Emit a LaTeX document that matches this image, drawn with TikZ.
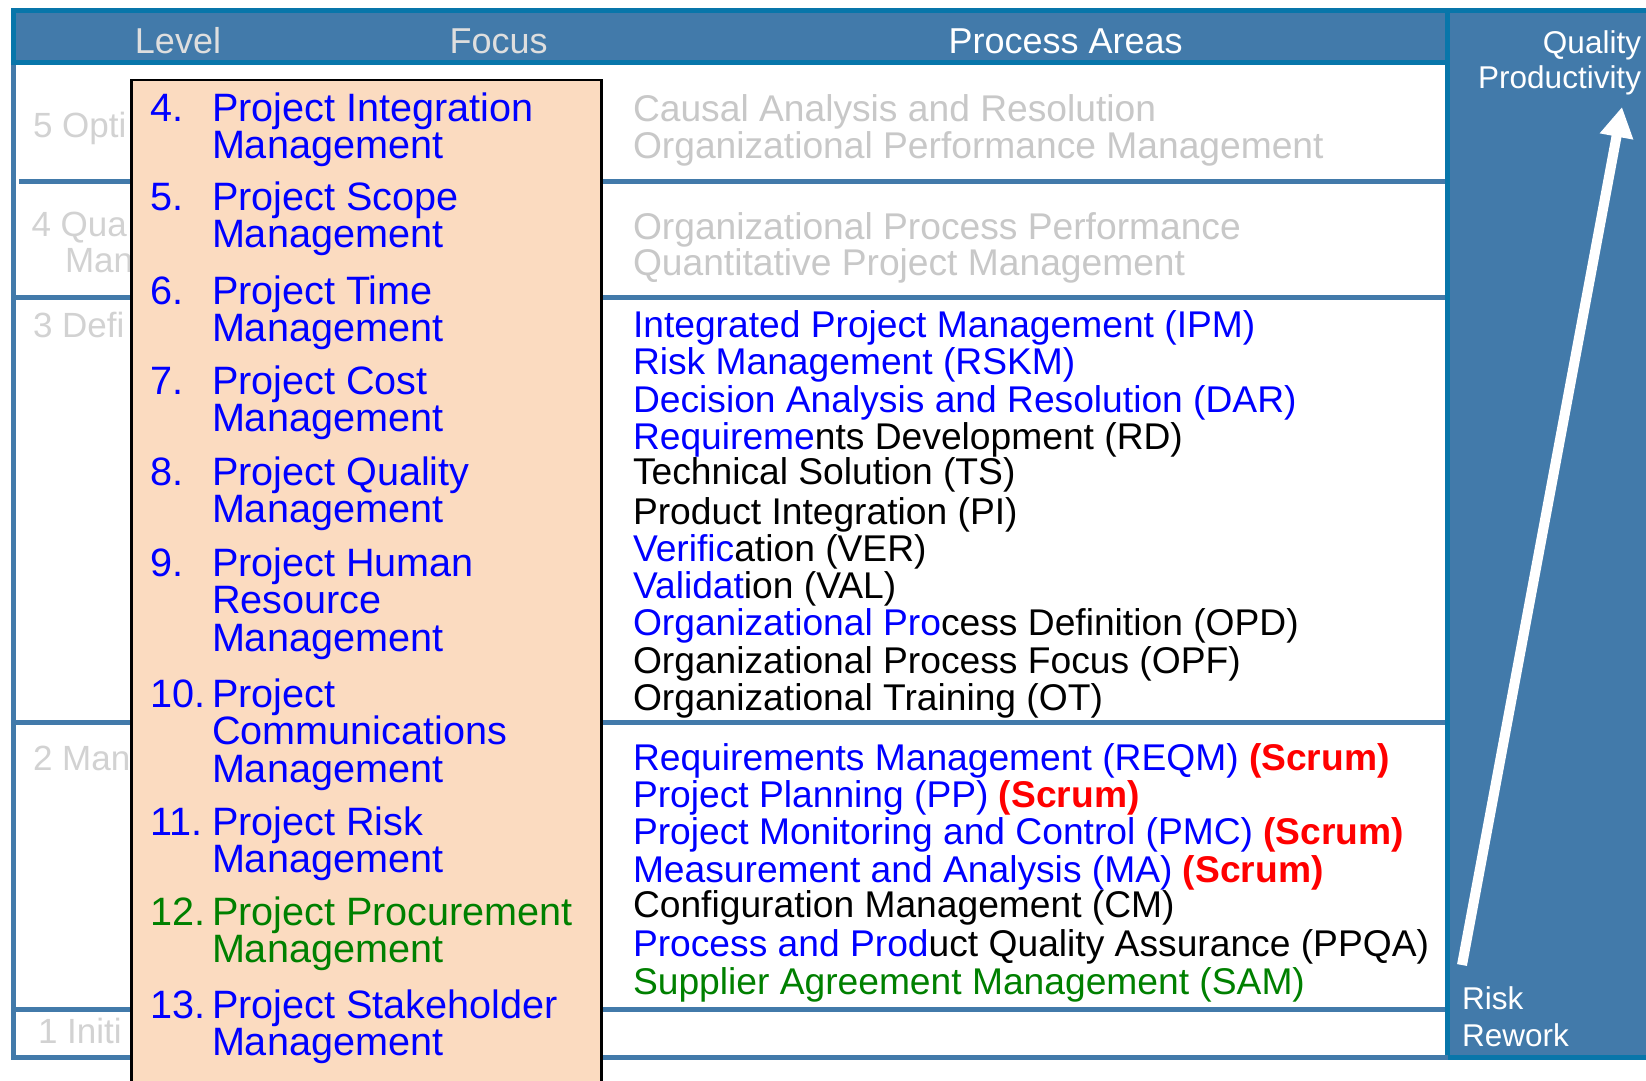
\documentclass[tikz,border=0pt]{standalone}
\usepackage{fontspec}
\setmainfont{Liberation Sans}
\usetikzlibrary{arrows.meta}
\definecolor{steel}{RGB}{66,122,170}
\definecolor{darkb}{RGB}{8,118,170}
\definecolor{peach}{RGB}{251,219,192}
\definecolor{pblue}{RGB}{0,0,255}
\definecolor{pgreen}{RGB}{0,128,0}
\definecolor{pred}{RGB}{255,0,0}
\definecolor{lgray}{RGB}{210,210,210}
\definecolor{pgray}{RGB}{200,200,200}
\definecolor{hgray}{RGB}{222,222,222}
\newcommand\focitem[5]{%
  \node[foc, text=#4] (#1-n) at (150,#3) {#2};
  \foreach \t [count=\i from 0] in {#5} {\node[foc, text=#4] (#1-\i) at (212,{#3+\i*37.5}) {\t};}%
}
\begin{document}
\begin{tikzpicture}[x=1pt,y=-1pt,
  every node/.style={inner sep=0pt, outer sep=0pt},
  proc/.style={anchor=base west, font=\fontsize{37.2}{37}\selectfont},
  foc/.style={anchor=base west, font=\fontsize{39.6}{37.5}\selectfont},
  lvl/.style={anchor=base west, font=\fontsize{35}{35}\selectfont, text=lgray},
  hdr/.style={anchor=base, font=\fontsize{36}{36}\selectfont},
  side/.style={font=\fontsize{31.5}{35}\selectfont, text=white},
  rulel/.style={steel, line width=5pt},
  darkl/.style={darkb, line width=5pt}]
\path[use as bounding box] (0,0) rectangle (1646,1080);
\clip (0,0) rectangle (1646,1080);
\fill[white] (0,0) rectangle (1646,1080);

% right column
\fill[steel] (1447.5,10.5) rectangle (1660,1057.5);
\draw[darkl] (1660,10.5) -- (1447.5,10.5) -- (1447.5,1057.5) -- (1660,1057.5);

% table lines
\draw[rulel] (13.5,62) -- (13.5,1057.5) -- (1447.5,1057.5);
\draw[rulel] (19,181) -- (1445,181);
\draw[rulel] (13.5,297.5) -- (1445,297.5);
\draw[rulel] (13.5,722) -- (1445,722);
\draw[rulel] (13.5,1009.5) -- (1445,1009.5);

% header
\draw[darkl, fill=steel] (13.5,10.5) rectangle (1447.5,62.5);
\node[hdr, text=hgray] (hlevel) at (178,53) {Level};
\node[hdr, text=hgray] (hfocus) at (498.6,53) {Focus};
\node[hdr, text=white] (hpa) at (1065.6,53) {Process Areas};

% level labels (the visible parts; the focus box covers the rest)
\node[lvl] (l5) at (33,137) {5 Opti};
\node[lvl] (l4a) at (31.5,236) {4 Qua};
\node[lvl] (l4b) at (65,272) {Man};
\node[lvl] (l3) at (33,337) {3 Defi};
\node[lvl] (l2) at (33,770) {2 Man};
\node[lvl] (l1) at (38,1043) {1 Initi};

% process areas
\node[proc, text=pgray] (p51) at (633,121) {Causal Analysis and Resolution};
\node[proc, text=pgray] (p52) at (633,158) {Organizational Performance Management};
\node[proc, text=pgray] (p41) at (633,239) {Organizational Process Performance};
\node[proc, text=pgray] (p42) at (633,275) {Quantitative Project Management};

\node[proc, text=pblue] (ipm) at (633,337) {Integrated Project Management (IPM)};
\node[proc, text=pblue] (rskm) at (633,374) {Risk Management (RSKM)};
\node[proc, text=pblue] (dar) at (633,412) {Decision Analysis and Resolution (DAR)};
\node[proc] (rd) at (633,449) {{\color{pblue}Requireme}nts Development (RD)};
\node[proc] (ts) at (633,484) {Technical Solution (TS)};
\node[proc] (pi) at (633,524) {Product Integration (PI)};
\node[proc] (ver) at (633,561) {{\color{pblue}Verific}ation (VER)};
\node[proc] (val) at (633,598) {{\color{pblue}Validat}ion (VAL)};
\node[proc] (opd) at (633,635) {{\color{pblue}Organizational Pro}cess Definition (OPD)};
\node[proc] (opf) at (633,673) {Organizational Process Focus (OPF)};
\node[proc] (ot) at (633,710) {Organizational Training (OT)};

\node[proc, text=pblue] (reqm) at (633,770) {Requirements Management (REQM) {\bfseries\color{pred}(Scrum)}};
\node[proc, text=pblue] (pp) at (633,807) {Project Planning (PP) {\bfseries\color{pred}(Scrum)}};
\node[proc, text=pblue] (pmc) at (633,844) {Project Monitoring and Control (PMC) {\bfseries\color{pred}(Scrum)}};
\node[proc, text=pblue] (ma) at (633,882) {Measurement and Analysis (MA) {\bfseries\color{pred}(Scrum)}};
\node[proc] (cm) at (633,917) {Configuration Management (CM)};
\node[proc] (ppqa) at (633,956) {{\color{pblue}Process and Prod}uct Quality Assurance (PPQA)};
\node[proc, text=pgreen] (sam) at (633,994) {Supplier Agreement Management (SAM)};

% right column arrow and labels
\coordinate (abot) at (1462,965);
\coordinate (atip) at (1622,107);
\draw[white, line width=10pt, -{Triangle[length=30pt,width=32pt]}] (abot) -- (atip);
\node[side, anchor=base east] (qual) at (1641,53) {Quality};
\node[side, anchor=base east] (prod) at (1641,88) {Productivity};
\node[side, anchor=base west] (risk) at (1462,1009) {Risk};
\node[side, anchor=base west] (rework) at (1462,1046) {Rework};

% focus box
\node[draw=black, line width=2.5pt, fill=peach, anchor=north west, minimum width=470, minimum height=1020] (fbox) at (131.5,80) {};
\focitem{f4}{4.}{121}{pblue}{Project Integration,Management}
\focitem{f5}{5.}{210}{pblue}{Project Scope,Management}
\focitem{f6}{6.}{304}{pblue}{Project Time,Management}
\focitem{f7}{7.}{394}{pblue}{Project Cost,Management}
\focitem{f8}{8.}{485}{pblue}{Project Quality,Management}
\focitem{f9}{9.}{576}{pblue}{Project Human,Resource,Management}
\focitem{f10}{10.}{707}{pblue}{Project,Communications,Management}
\focitem{f11}{11.}{835}{pblue}{Project Risk,Management}
\focitem{f12}{12.}{925}{pgreen}{Project Procurement,Management}
\focitem{f13}{13.}{1018}{pblue}{Project Stakeholder,Management}
\end{tikzpicture}
\end{document}
